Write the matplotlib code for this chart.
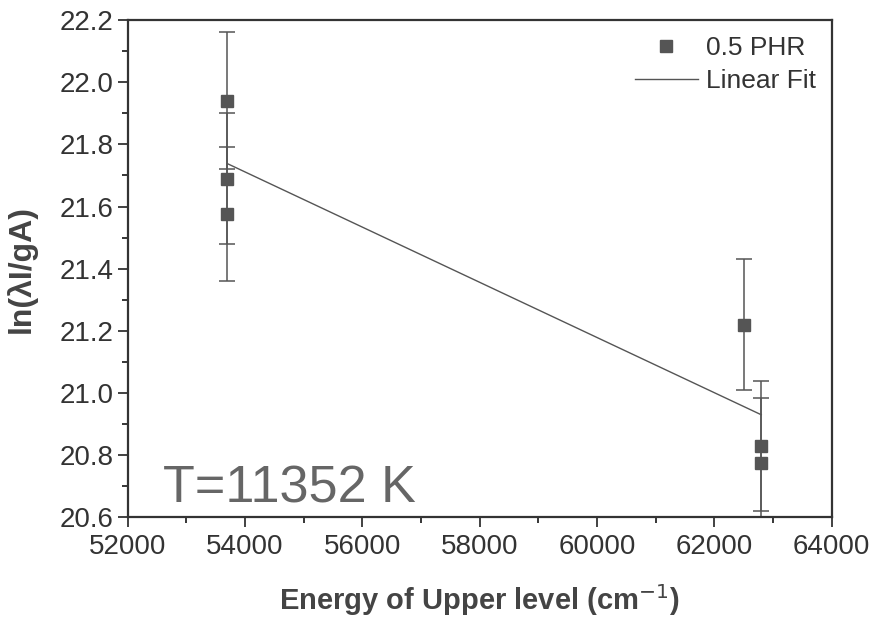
import numpy as np
import matplotlib
matplotlib.use("Agg")
import matplotlib.pyplot as plt
from matplotlib.ticker import MultipleLocator, FormatStrFormatter

plt.rcParams['font.family'] = ['Liberation Sans', 'DejaVu Sans']

# Boltzmann plot data, 0.5 PHR sample
energy = [53700, 53700, 53700, 62500, 62800, 62800]   # cm^-1
ln_val = [21.94, 21.69, 21.575, 21.22, 20.83, 20.775]
err = [0.22, 0.21, 0.215, 0.21, 0.21, 0.21]
temp_label = "T=11352 K"

gray = '#555555'

fig = plt.figure(figsize=(8.69, 6.27), dpi=100)
ax = fig.add_axes([0.147, 0.175, 0.810, 0.793])

ax.errorbar(energy, ln_val, yerr=err, fmt='none', ecolor=gray,
            elinewidth=1.1, capsize=6, capthick=1.1)
ax.plot(energy, ln_val, 's', color=gray, markersize=8, label='0.5 PHR')

# least squares fit over the data range
slope, icpt = np.polyfit(energy, ln_val, 1)
xf = np.array([min(energy), max(energy)])
ax.plot(xf, slope * xf + icpt, color=gray, lw=1.0, label='Linear Fit')

ax.set_xlim(52000, 64000)
ax.set_ylim(20.6, 22.2)
ax.xaxis.set_major_locator(MultipleLocator(2000))
ax.xaxis.set_minor_locator(MultipleLocator(1000))
ax.yaxis.set_major_locator(MultipleLocator(0.2))
ax.yaxis.set_minor_locator(MultipleLocator(0.1))
ax.yaxis.set_major_formatter(FormatStrFormatter('%.1f'))
ax.tick_params(which='major', direction='out', length=7, width=1.3,
               labelsize=20, colors='#333333')
ax.tick_params(axis='x', which='major', pad=5)
ax.tick_params(which='minor', direction='out', length=4, width=1.1)
for s in ax.spines.values():
    s.set_linewidth(1.6)
    s.set_color('#333333')

ax.set_xlabel('Energy of Upper level (cm$^{-1}$)', fontsize=21,
              fontweight='bold', color='#444444', labelpad=16)
ax.set_ylabel('ln(λI/gA)', fontsize=23, fontweight='bold', color='#444444',
              labelpad=16)

ax.text(52600, 20.69, temp_label, fontsize=37.5, color='#666666',
        va='center', ha='left')

ax.legend(loc='upper right', frameon=False, fontsize=19, handlelength=2.4,
          numpoints=1, handletextpad=0.3, labelspacing=0.35,
          borderaxespad=0.2, labelcolor='#333333')

fig.savefig('out.png', dpi=100)
